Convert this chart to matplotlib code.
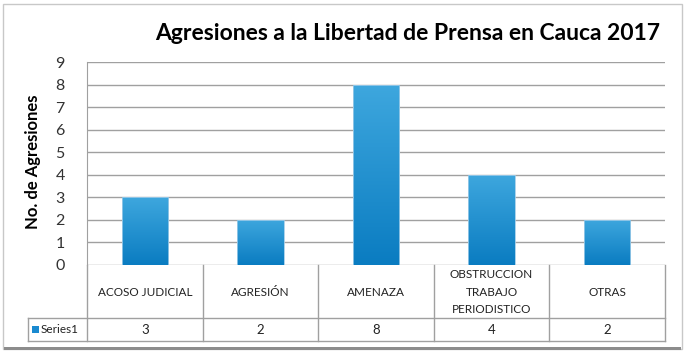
import numpy as np
import matplotlib.pyplot as plt
from matplotlib.patches import Rectangle
from matplotlib.colors import LinearSegmentedColormap
import matplotlib.transforms as mtransforms

categories = ['ACOSO JUDICIAL', 'AGRESIÓN', 'AMENAZA', 'OBSTRUCCION\nTRABAJO\nPERIODISTICO', 'OTRAS']
values = [3, 2, 8, 4, 2]
series_name = 'Series1'
title = 'Agresiones a la Libertad de Prensa en Cauca 2017'
ylabel = 'No. de Agresiones'

W, H = 685, 355
fig = plt.figure(figsize=(W / 100, H / 100), dpi=100)

def fx(px):
    return px / W

def fy(py):
    return 1 - py / H

# outer frame, darker shadow at the bottom
fig.patches.append(Rectangle((fx(3), fy(349)), fx(679) - fx(0), fy(4) - fy(349),
                             transform=fig.transFigure, fill=False, ec='#c8c8c8', lw=1))
fig.patches.append(Rectangle((fx(4), fy(350)), fx(677), fy(347) - fy(350),
                             transform=fig.transFigure, fc='#8c8c8c', ec='none'))

left, right, top, bottom = 87, 665, 62, 265
ax = fig.add_axes([fx(left), fy(bottom), fx(right - left), fy(top) - fy(bottom)])
n = len(categories)
x = np.arange(n)
ax.set_yticks(range(10))
ax.set_xticks([])
ax.yaxis.grid(True, color='#a0a0a0', lw=1)
ax.set_axisbelow(True)
for s in ['top', 'right', 'bottom']:
    ax.spines[s].set_visible(False)
ax.spines['left'].set_color('#a0a0a0')
ax.tick_params(axis='y', length=0, pad=16, labelsize=11.5, labelcolor='#333333')
for lab in ax.get_yticklabels():
    lab.set_fontfamily('Lato')

# bars with a vertical gradient
grad = np.linspace(0, 1, 256).reshape(-1, 1)
cmap = LinearSegmentedColormap.from_list('b', ['#0a7cc1', '#3ea7de'])
bars = ax.bar(x, values, width=0.4, color='none', edgecolor='#9dcbe8', lw=0.6, zorder=3)
for b in bars:
    x0, w, h = b.get_x(), b.get_width(), b.get_height()
    im = ax.imshow(grad, cmap=cmap, origin='lower', aspect='auto',
                   extent=[x0, x0 + w, 0, h], zorder=2)
    im.set_clip_path(b)
ax.set_xlim(-0.5, n - 0.5)
ax.set_ylim(0, 9)

# data table under the plot
line_c = '#a0a0a0'
cat_bottom, ser_bottom = 318, 341
tr = mtransforms.blended_transform_factory(ax.transData, fig.transFigure)
for i in range(n + 1):
    ax.plot([i - 0.5, i - 0.5], [fy(bottom), fy(ser_bottom)], color=line_c, lw=1,
            transform=tr, clip_on=False)
fig.add_artist(plt.Line2D([fx(28), fx(right)], [fy(cat_bottom), fy(cat_bottom)], color=line_c, lw=1))
fig.add_artist(plt.Line2D([fx(28), fx(right)], [fy(ser_bottom), fy(ser_bottom)], color=line_c, lw=1))
fig.add_artist(plt.Line2D([fx(28), fx(28)], [fy(cat_bottom), fy(ser_bottom)], color=line_c, lw=1))

for i, (c, v) in enumerate(zip(categories, values)):
    ax.text(i, fy((bottom + cat_bottom) / 2 + 0.5), c, transform=tr, ha='center', va='center',
            fontsize=8.5, color='#222222', family='Lato', linespacing=1.75)
    ax.text(i, fy((cat_bottom + ser_bottom) / 2), str(v), transform=tr, ha='center', va='center',
            fontsize=9.5, color='#222222', family='Lato')

fig.patches.append(Rectangle((fx(32), fy(333)), fx(7), fy(326) - fy(333),
                             transform=fig.transFigure, fc='#1a8ad0', ec='none'))
fig.text(fx(41), fy((cat_bottom + ser_bottom) / 2), series_name, ha='left', va='center',
         fontsize=8.5, color='#222222', family='Lato')

fig.text(fx(660), fy(33), title, ha='right', va='center', fontsize=16.5,
         fontweight='bold', family='Lato', color='#000000')
fig.text(fx(33), fy(162), ylabel, rotation=90, ha='center', va='center', fontsize=12,
         fontweight='bold', family='Lato', color='#000000')

fig.savefig('out.png', dpi=100)
